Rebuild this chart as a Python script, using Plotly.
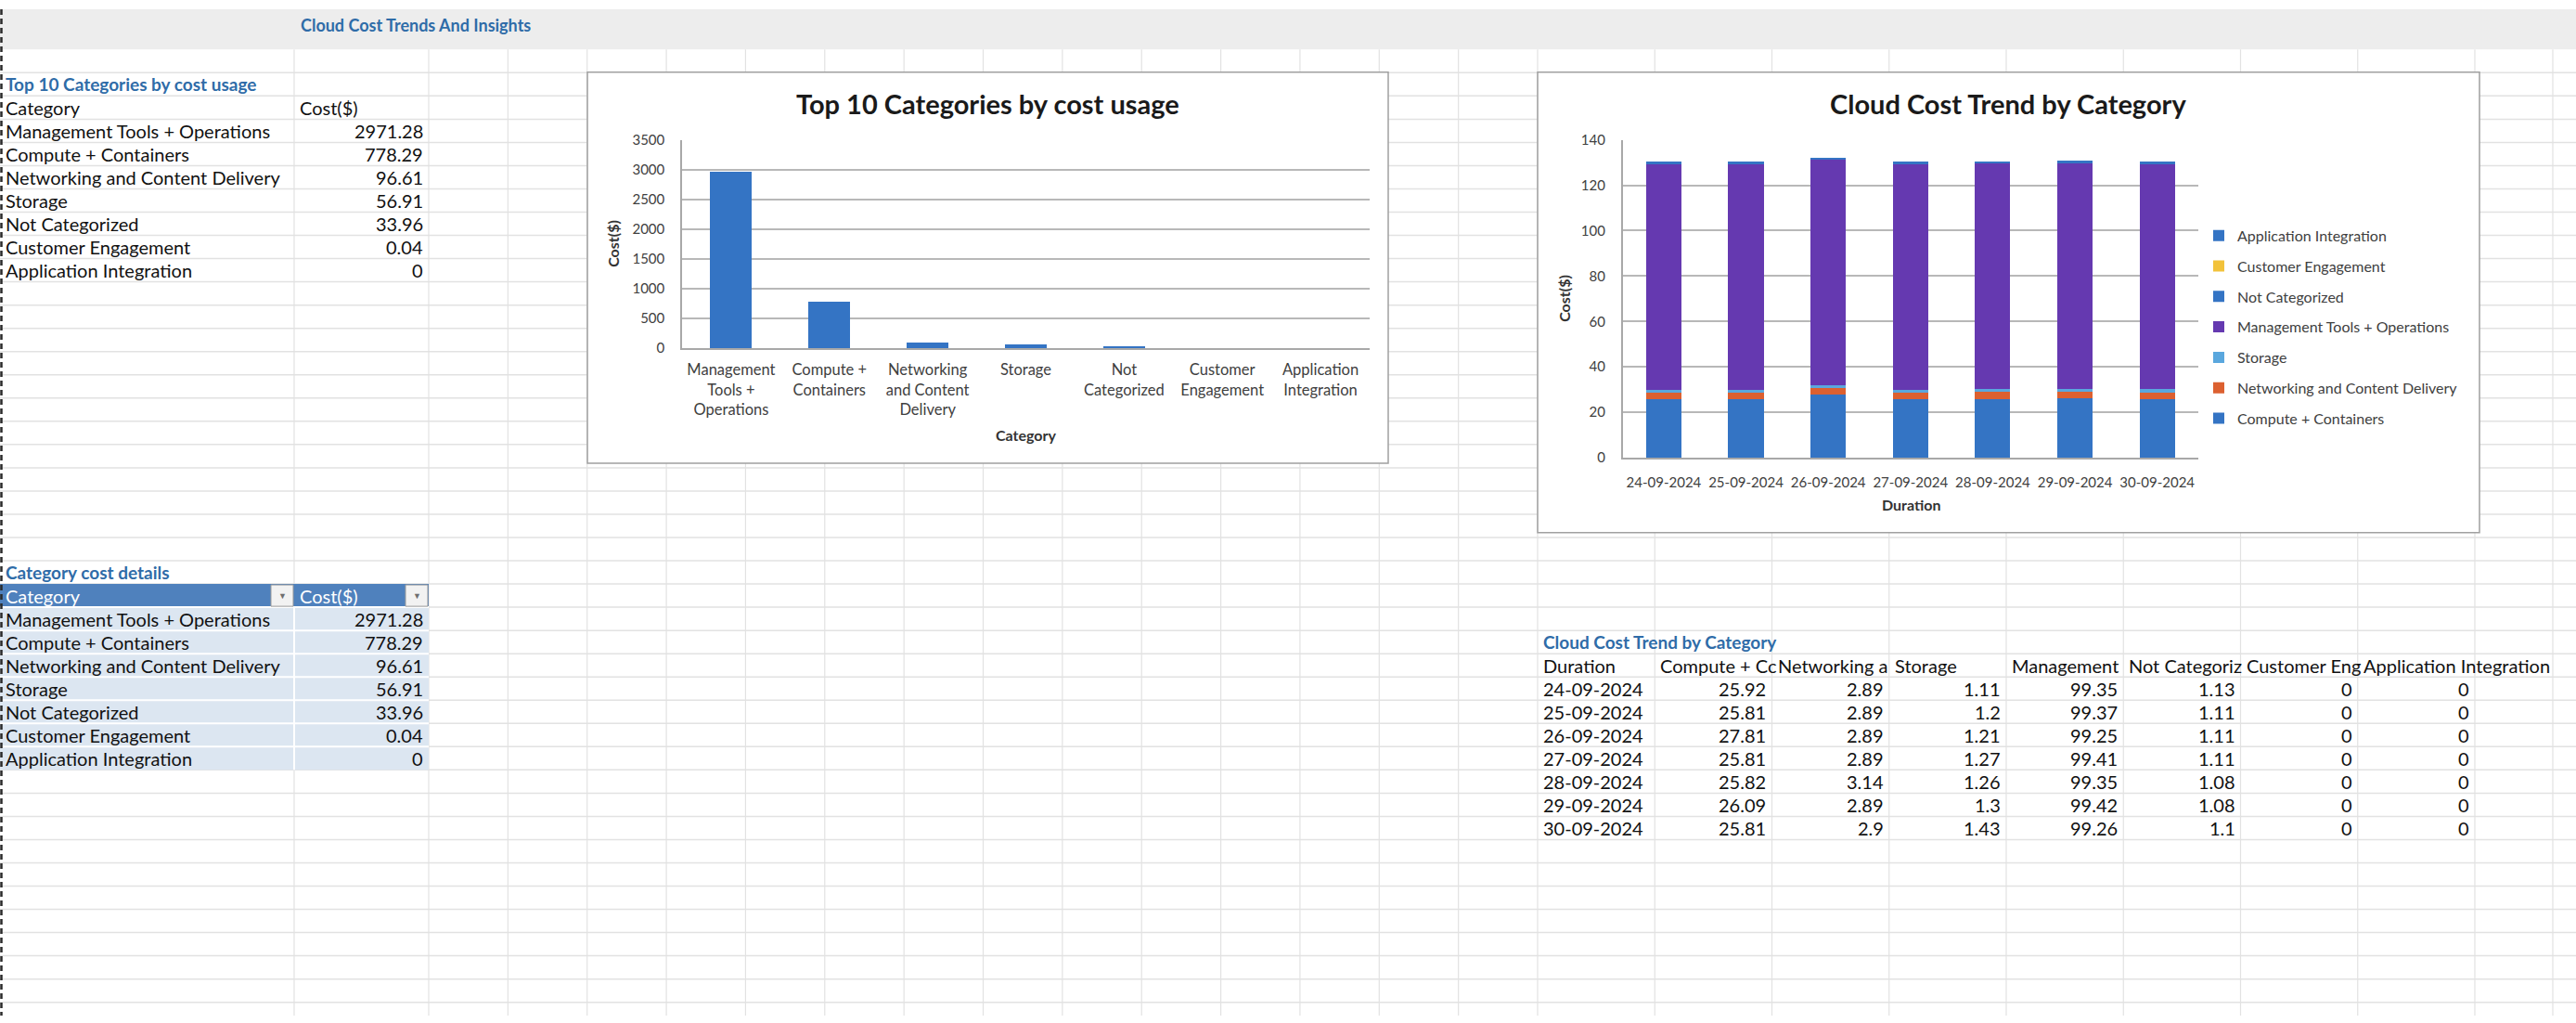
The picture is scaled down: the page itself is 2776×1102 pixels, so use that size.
import plotly.graph_objects as go

W, H = 2776, 1102
FONT = "Lato"

# ------------------------------------------------------------------ data
categories = ["Management Tools + Operations", "Compute + Containers",
              "Networking and Content Delivery", "Storage", "Not Categorized",
              "Customer Engagement", "Application Integration"]
costs = [2971.28, 778.29, 96.61, 56.91, 33.96, 0.04, 0]
cat_tick_labels = ["Management<br>Tools +<br>Operations", "Compute +<br>Containers",
                   "Networking<br>and Content<br>Delivery", "Storage",
                   "Not<br>Categorized", "Customer<br>Engagement",
                   "Application<br>Integration"]

dates = ["24-09-2024", "25-09-2024", "26-09-2024", "27-09-2024",
         "28-09-2024", "29-09-2024", "30-09-2024"]
compute = [25.92, 25.81, 27.81, 25.81, 25.82, 26.09, 25.81]
networking = [2.89, 2.89, 2.89, 2.89, 3.14, 2.89, 2.9]
storage = [1.11, 1.2, 1.21, 1.27, 1.26, 1.3, 1.43]
management = [99.35, 99.37, 99.25, 99.41, 99.35, 99.42, 99.26]
not_categorized = [1.13, 1.11, 1.11, 1.11, 1.08, 1.08, 1.1]
customer_engagement = [0, 0, 0, 0, 0, 0, 0]
app_integration = [0, 0, 0, 0, 0, 0, 0]

trend_names = ["Compute + Containers", "Networking and Content Delivery", "Storage",
               "Management Tools + Operations", "Not Categorized",
               "Customer Engagement", "Application Integration"]
trend_headers = ["Duration", "Compute + Cc", "Networking a", "Storage", "Management",
                 "Not Categoriz", "Customer Eng", "Application Integration"]

sheet_title = "Cloud Cost Trends And Insights"
table1_title = "Top 10 Categories by cost usage"
table2_title = "Category cost details"
table3_title = "Cloud Cost Trend by Category"
chart1_title = "Top 10 Categories by cost usage"
chart2_title = "Cloud Cost Trend by Category"

# ------------------------------------------------------------------ styles / geometry
BLUE = "#3474C4"
trend_colors = ["#3474C4", "#DC6030", "#5AA7DE", "#6539B0", "#3474C4", "#F2C23A", "#3474C4"]
HEAD_BLUE = "#2F6CA8"
GRIDC = "#E2E2E2"
CH_GRID = "#B8B8B8"
CH_AX = "#A8A8A8"
BODY = 20

BAND_H = 44
ROW_H = 25.45
col_edges = [0, 317, 462] + [462 + 85.357 * k for k in range(1, 15)] \
    + [1657 + 126.25 * k for k in range(1, 9)] + [2751]


def X(p):
    return p / W


def Y(p):
    return 1 - p / H


def row_mid(r):
    return BAND_H + ROW_H * (r + 0.5)


def row_top(r):
    return BAND_H + ROW_H * r


def fmt(v):
    return f"{v:g}"


shapes = []
annotations = []


def line(x0, y0, x1, y1, color, width=1, dash=None):
    d = dict(type="line", xref="paper", yref="paper", x0=X(x0), y0=Y(y0),
             x1=X(x1), y1=Y(y1), line=dict(color=color, width=width), layer="below")
    if dash:
        d["line"]["dash"] = dash
    shapes.append(d)


def rect(x0, y0, x1, y1, fill, lc=None, lw=0):
    shapes.append(dict(type="rect", xref="paper", yref="paper", x0=X(x0), y0=Y(y1),
                       x1=X(x1), y1=Y(y0), fillcolor=fill,
                       line=dict(color=lc or fill, width=lw), layer="below"))


def text(t, x, y, xanchor="left", size=BODY, color="#111111", bold=False, angle=0):
    annotations.append(dict(text=f"<b>{t}</b>" if bold else t, x=X(x), y=Y(y),
                            xref="paper", yref="paper", xanchor=xanchor, yanchor="middle",
                            showarrow=False, textangle=angle,
                            font=dict(family=FONT, size=size, color=color)))


def cell(t, col, row, align="left", **kw):
    if align == "left":
        text(t, col_edges[col] + 4, row_mid(row), "left", **kw)
    else:
        text(t, col_edges[col + 1] - 4, row_mid(row), "right", **kw)


# header band
rect(0, 0, W, BAND_H, "#EDEDED")
# sheet grid
r = 1
while BAND_H + ROW_H * r < H:
    line(0, BAND_H + ROW_H * r, W, BAND_H + ROW_H * r, GRIDC, 1.5)
    r += 1
for cx in col_edges[1:]:
    line(cx, BAND_H, cx, H, GRIDC, 1.2)

# table 2 fills
rect(0, row_top(23), col_edges[2], row_top(24), "#4F81BD")
rect(0, row_top(24), col_edges[2], row_top(31), "#DCE6F1")
for rr in range(24, 31):
    line(0, row_top(rr), col_edges[2], row_top(rr), "#FFFFFF", 2)
line(col_edges[1], row_top(24), col_edges[1], row_top(31), "#FFFFFF", 2)
for c in (0, 1):
    xr = col_edges[c + 1]
    rect(xr - 25, row_top(23) + 1, xr - 1, row_top(24) - 1, "#F2F2F2", "#9A9A9A", 1)
    text("▼", xr - 13, row_mid(23), "center", size=9, color="#6E6E6E")

# left dashed edge
line(1.5, 0, 1.5, H, "#2A2A2A", 2.5, "6px,4px")

# chart boxes
rect(633, 69, 1496, 497, "#FFFFFF", "#A0A0A0", 1.5)
rect(1657, 69, 2672, 573, "#FFFFFF", "#A0A0A0", 1.5)

# ------------------------------------------------------------------ sheet text
text(sheet_title, 322, 17, "left", size=18, color=HEAD_BLUE, bold=True)

cell(table1_title, 0, 1, color=HEAD_BLUE, bold=True, size=19)
cell("Category", 0, 2)
cell("Cost($)", 1, 2)
for i, (c, v) in enumerate(zip(categories, costs)):
    cell(c, 0, 3 + i)
    cell(fmt(v), 1, 3 + i, "right")

cell(table2_title, 0, 22, color=HEAD_BLUE, bold=True, size=19)
cell("Category", 0, 23, color="#FFFFFF")
cell("Cost($)", 1, 23, color="#FFFFFF")
for i, (c, v) in enumerate(zip(categories, costs)):
    cell(c, 0, 24 + i)
    cell(fmt(v), 1, 24 + i, "right")

cell(table3_title, 16, 25, color=HEAD_BLUE, bold=True, size=19)
for j, hname in enumerate(trend_headers):
    cell(hname, 16 + j, 26)
trend_series = [compute, networking, storage, management, not_categorized,
                customer_engagement, app_integration]
for i, d in enumerate(dates):
    cell(d, 16, 27 + i)
    for j, s in enumerate(trend_series):
        cell(fmt(s[i]), 17 + j, 27 + i, "right")

# chart titles and axis titles
text(chart1_title, 1064, 103, "center", size=29, color="#1A1A1A", bold=True)
text("Category", 1105, 466, "center", size=16, color="#333333", bold=True)
text("Cost($)", 661, 257, "center", size=16, color="#333333", bold=True, angle=-90)
text(chart2_title, 2164, 103, "center", size=29, color="#1A1A1A", bold=True)
text("Duration", 2059, 542, "center", size=16, color="#333333", bold=True)
text("Cost($)", 1686, 317, "center", size=16, color="#333333", bold=True, angle=-90)

# ------------------------------------------------------------------ charts
fig = go.Figure()
fig.add_trace(go.Bar(x=categories, y=costs, marker=dict(color=BLUE, line=dict(width=0)),
                     width=0.425, xaxis="x", yaxis="y", showlegend=False,
                     name="Cost($)"))
for j, (name, s, col) in enumerate(zip(trend_names, trend_series, trend_colors)):
    fig.add_trace(go.Bar(x=dates, y=s, name=name, marker=dict(color=col, line=dict(width=0)),
                         width=0.43, xaxis="x2", yaxis="y2", legendgroup=name,
                         legendrank=len(trend_names) - j))

tickfont = dict(family=FONT, size=15, color="#404040")
fig.update_layout(
    width=W, height=H, margin=dict(l=0, r=0, t=0, b=0),
    paper_bgcolor="#FFFFFF", plot_bgcolor="rgba(0,0,0,0)",
    barmode="stack", font=dict(family=FONT),
    shapes=shapes, annotations=annotations,
    xaxis=dict(domain=[X(735), X(1476)], anchor="y", type="category",
               tickvals=categories, ticktext=cat_tick_labels, showgrid=False,
               showline=True, linecolor=CH_AX, linewidth=1.5, ticks="",
               ticklabelstandoff=8, tickfont=dict(family=FONT, size=16.5, color="#404040"),
               fixedrange=True),
    yaxis=dict(domain=[Y(371), Y(143)], anchor="x", range=[0, 3500], dtick=500,
               showgrid=True, gridcolor=CH_GRID, gridwidth=1.5, zeroline=False,
               showline=True, linecolor=CH_AX, linewidth=1.5, ticks="",
               ticklabelstandoff=14, tickfont=tickfont, fixedrange=True),
    xaxis2=dict(domain=[X(1748.6), X(2369)], anchor="y2", type="category",
                showgrid=False, showline=True, linecolor=CH_AX, linewidth=1.5,
                ticks="", ticklabelstandoff=12, tickfont=tickfont, tickangle=0,
                fixedrange=True),
    yaxis2=dict(domain=[Y(491), Y(143)], anchor="x2", range=[0, 140], dtick=20,
                showgrid=True, gridcolor=CH_GRID, gridwidth=1.5, zeroline=False,
                showline=True, linecolor=CH_AX, linewidth=1.5, ticks="",
                ticklabelstandoff=14, tickfont=tickfont, fixedrange=True),
    legend=dict(x=X(2371), xanchor="left", y=Y(348), yanchor="middle",
                traceorder="grouped", tracegroupgap=9,
                bgcolor="rgba(0,0,0,0)", font=dict(family=FONT, size=16, color="#404040")),
)

fig.write_html("out.html", config={"displayModeBar": False},
               post_script="document.body.style.margin='0';")
